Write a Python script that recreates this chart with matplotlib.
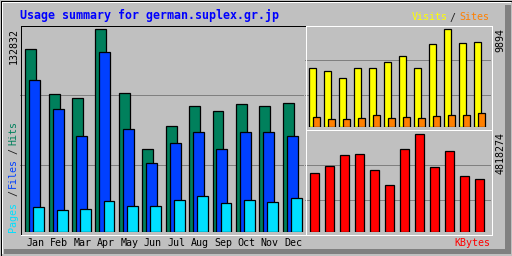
import matplotlib
matplotlib.use("Agg")
import matplotlib.pyplot as plt
from matplotlib.lines import Line2D
from matplotlib.patches import Rectangle

# data
months = ["Jan", "Feb", "Mar", "Apr", "May", "Jun", "Jul", "Aug", "Sep", "Oct", "Nov", "Dec"]
hits = [119750, 90240, 87610, 132832, 90890, 54190, 69270, 82370, 79100, 83680, 82370, 84340]
files = [99410, 80410, 62710, 117760, 67300, 45020, 58130, 65330, 54190, 65330, 65330, 62710]
pages = [16190, 14220, 14880, 20120, 16840, 16840, 20770, 23390, 18810, 20770, 19460, 22080]
visits = [5945, 5641, 4932, 5945, 5945, 6552, 7160, 5945, 8375, 9894, 8476, 8578]
sites = [982, 780, 780, 881, 1185, 881, 982, 881, 1084, 1185, 1185, 1387]
kbytes = [2894900, 3240000, 3782600, 3831900, 3042900, 2303100, 4078500, 4818274,
          3190800, 3980000, 2747000, 2599000]

BG = "#C0C0C0"
DKGREY = "#808080"
HIT_C, FILE_C, PAGE_C = "#00805C", "#0040FF", "#00E0FF"
VISIT_C, SITE_C, KB_C = "#FFFF00", "#FF8000", "#FF0000"
MONO = "DejaVu Sans Mono"

W, H = 512, 256
fig = plt.figure(figsize=(W / 100, H / 100), dpi=100, facecolor=BG)


def fx(x):
    return x / W


def fy(y):
    return 1 - y / H


def line(x1, y1, x2, y2, color, lw=1.0):
    fig.add_artist(Line2D([fx(x1 + 0.5), fx(x2 + 0.5)], [fy(y1 + 0.5), fy(y2 + 0.5)],
                          transform=fig.transFigure, color=color, lw=lw * 0.72,
                          solid_capstyle="projecting"))


def panel(x0, y0, x1, y1):
    ax = fig.add_axes([fx(x0), fy(y1), (x1 - x0) / W, (y1 - y0) / H])
    ax.set_facecolor("none")
    ax.axis("off")
    return ax


def grid(ax, fracs):
    for f in fracs:
        ax.plot([0, 1], [f, f], transform=ax.transAxes, color=DKGREY, lw=0.72, zorder=0)


# outer border with shading
fig.add_artist(Rectangle((fx(505), fy(254)), 6 / W, 249 / H, transform=fig.transFigure,
                         facecolor=DKGREY, edgecolor="none"))
fig.add_artist(Rectangle((fx(4), fy(254)), 507 / W, 5 / H, transform=fig.transFigure,
                         facecolor=DKGREY, edgecolor="none"))
line(1, 1, 509, 1, "white", 2)
line(1, 1, 1, 252, "white", 2)
line(0, 0, 511, 0, "black")
line(0, 0, 0, 255, "black")
line(511, 0, 511, 255, "black")
line(0, 255, 511, 255, "black")

# main panel: hits / files / pages
ax1 = panel(20, 25, 304, 232)
step1 = 23.4
ax1.set_xlim((20 - 25.3) / step1, (304 - 25.3) / step1)
ax1.set_ylim(0, max(hits) * 207 / 202.7)
grid(ax1, [0.324, 0.662])
bw = 10.8 / step1
off = 4 / step1
x = list(range(12))
ax1.bar(x, hits, width=bw, align="edge", color=HIT_C, edgecolor="black", lw=0.9, zorder=2)
ax1.bar([i + off for i in x], files, width=bw, align="edge", color=FILE_C, edgecolor="black", lw=0.9, zorder=3)
ax1.bar([i + 2 * off for i in x], pages, width=bw, align="edge", color=PAGE_C, edgecolor="black", lw=0.9, zorder=4)
for i, m in enumerate(months):
    fig.text(fx(26.7 + step1 * i), fy(243.5), m, ha="left", va="center",
             family=MONO, fontsize=7.2, color="black")

# right top panel: visits / sites
ax2 = panel(305, 25, 491, 127)
ax2.set_xlim((305 - 309.3) / 15, (491 - 309.3) / 15)
ax2.set_ylim(0, max(visits) * 102 / 97.7)
grid(ax2, [0.314, 0.657])
ax2.bar(x, visits, width=6.6 / 15, align="edge", color=VISIT_C, edgecolor="black", lw=0.9, zorder=2)
ax2.bar([i + 4 / 15 for i in x], sites, width=6.4 / 15, align="edge", color=SITE_C, edgecolor="black", lw=0.9, zorder=3)

# right bottom panel: kbytes
ax3 = panel(305, 130, 491, 232)
ax3.set_xlim((305 - 310.3) / 15, (491 - 310.3) / 15)
ax3.set_ylim(0, max(kbytes) * 102 / 97.7)
grid(ax3, [0.311, 0.654])
ax3.bar(x, kbytes, width=8.4 / 15, align="edge", color=KB_C, edgecolor="black", lw=0.9, zorder=2)

# panel frames
line(20, 25, 305, 25, "black")
line(20, 25, 20, 233, "black")
line(305, 25, 491, 25, "white")
line(305, 25, 305, 234, "white")
line(491, 25, 491, 234, "white")
line(305, 129, 491, 129, "white")
line(20, 234, 491, 234, "white")

# texts
fig.text(fx(20), fy(15.5), "Usage summary for german.suplex.gr.jp", ha="left", va="center",
         family=MONO, fontsize=8.4, fontweight="bold", color="#0000FF")
fig.text(fx(411.7), fy(17.5), "Visits", ha="left", va="center", family=MONO, fontsize=7.2, color=VISIT_C)
fig.text(fx(453), fy(17.5), "/", ha="center", va="center", family=MONO, fontsize=7.2, color="#202020")
fig.text(fx(459.3), fy(17.5), "Sites", ha="left", va="center", family=MONO, fontsize=7.2, color=SITE_C)
fig.text(fx(490), fy(243.5), "KBytes", ha="right", va="center", family=MONO, fontsize=7.2, color=KB_C)

fig.text(fx(13.3), fy(28), f"{max(hits)}", rotation=90, ha="center", va="top",
         family=MONO, fontsize=7.2, color="black")
fig.text(fx(500.5), fy(28), f"{max(visits)}", rotation=90, ha="center", va="top",
         family=MONO, fontsize=7.2, color="black")
fig.text(fx(500.5), fy(131.5), f"{max(kbytes)}", rotation=90, ha="center", va="top",
         family=MONO, fontsize=7.2, color="black")

fig.text(fx(13), fy(232), "Pages", rotation=90, ha="center", va="bottom", family=MONO, fontsize=7.2, color=PAGE_C)
fig.text(fx(13), fy(193), "/", rotation=90, ha="center", va="center", family=MONO, fontsize=7.2, color="#202020")
fig.text(fx(13), fy(188), "Files", rotation=90, ha="center", va="bottom", family=MONO, fontsize=7.2, color=FILE_C)
fig.text(fx(13), fy(151.5), "/", rotation=90, ha="center", va="center", family=MONO, fontsize=7.2, color="#202020")
fig.text(fx(13), fy(145), "Hits", rotation=90, ha="center", va="bottom", family=MONO, fontsize=7.2, color=HIT_C)

fig.savefig("out.png", dpi=100, facecolor=BG)
